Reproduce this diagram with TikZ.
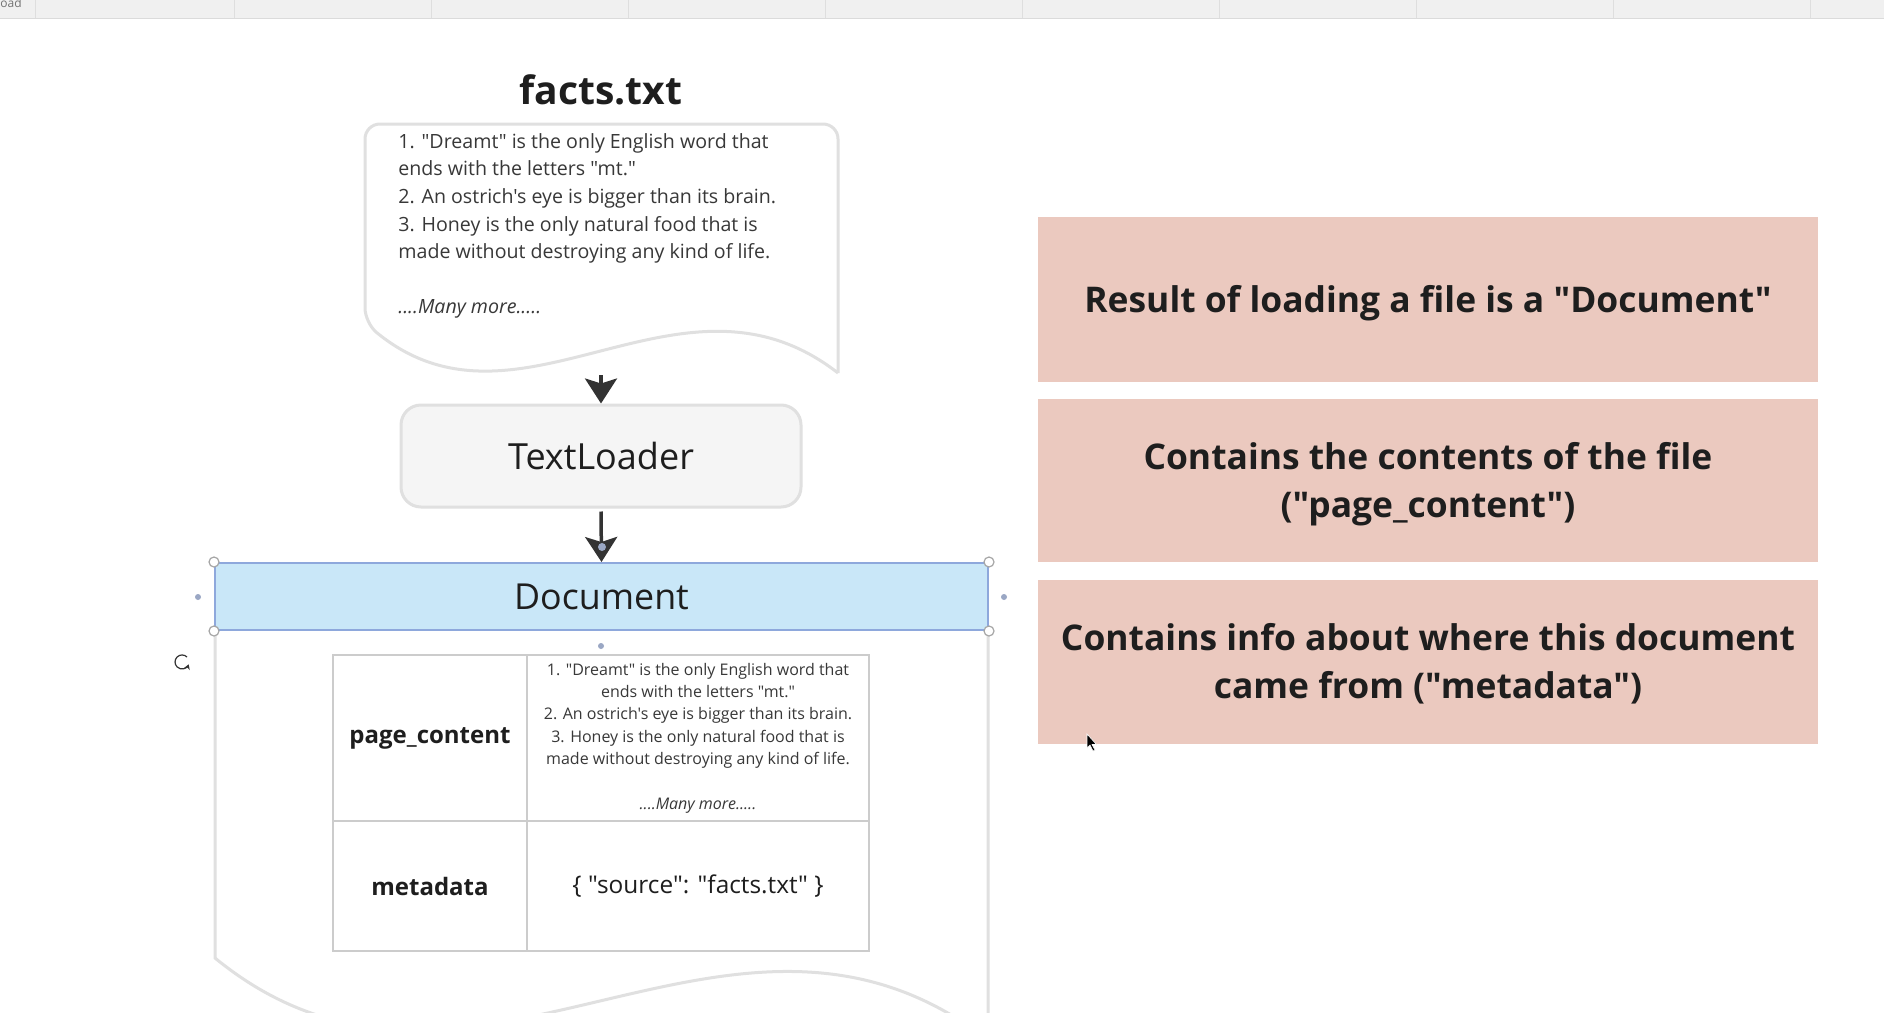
\documentclass[tikz,border=0pt]{standalone}
\usepackage{fontspec}
\setmainfont{Open Sans}[Ligatures=TeXOff]
\usetikzlibrary{arrows.meta}
\definecolor{outl}{HTML}{E0E0E0}
\definecolor{loadfill}{HTML}{F5F5F5}
\definecolor{docfill}{HTML}{C9E7F8}
\definecolor{docline}{HTML}{8EA8DC}
\definecolor{pinkbox}{HTML}{EBC9BF}
\definecolor{txtdark}{HTML}{1E1E1E}
\definecolor{txtgray}{HTML}{383838}
\definecolor{arrcol}{HTML}{333333}
\definecolor{tabline}{HTML}{CCCCCC}
\definecolor{handle}{HTML}{9AA7C4}
\tikzset{
  shapeline/.style={draw=outl, line width=1.5pt},
  arr/.style={draw=arrcol, line width=1.75pt, -{Stealth[length=12.5pt,width=16pt,inset=2.5pt]}},
  pinknote/.style={fill=pinkbox, minimum width=390pt, align=center, text=txtdark, font=\fontsize{17.7}{24}\selectfont\bfseries, inner sep=0pt},
  notetext/.style={align=center, text=txtdark, font=\fontsize{17.7}{24}\selectfont\bfseries, inner sep=0pt},
  cell/.style={draw=tabline, line width=1pt, inner sep=0pt, anchor=north west},
  selhandle/.style={circle, draw=gray!70, fill=white, line width=0.6pt, minimum size=5pt, inner sep=0pt},
  seldot/.style={circle, fill=handle, minimum size=3pt, inner sep=0pt},
}
\begin{document}
\begin{tikzpicture}[x=0.5pt,y=-0.5pt]
\useasboundingbox (0,0) rectangle (1884,1012);
\clip (0,0) rectangle (1884,1012);
\fill[white] (0,0) rectangle (1884,1012);
% top toolbar strip
\fill[black!6] (0,0) rectangle (1884,18);
\draw[black!14, line width=0.5pt] (0,18) -- (1884,18);
\foreach \gx in {35,234,431,628,825,1022,1219,1416,1613,1810}
  \draw[black!13, line width=0.5pt] (\gx,0) -- (\gx,18);
\node[anchor=base west, inner sep=0pt, text=black!55, font=\fontsize{6}{7}\selectfont] (toolbar) at (0,7) {oad};

% facts.txt file shape
\node[font=\fontsize{19.5}{23}\selectfont\bfseries, text=txtdark] (factstitle) at (601,90) {facts.txt};
\draw[shapeline, rounded corners=7.5pt] (838,373) -- (838,124) -- (365,124) -- (365,323)
  .. controls (520,450) and (680,250) .. (838,373);
\node[anchor=north west, align=left, inner sep=0pt, text=txtgray, font=\fontsize{9.8}{13.8}\selectfont] (factstext) at (398,133)
  {1. "Dreamt" is the only English word that\\
   ends with the letters "mt."\\
   2. An ostrich's eye is bigger than its brain.\\
   3. Honey is the only natural food that is\\
   made without destroying any kind of life.\\[13.8pt]
   \textit{....Many more.....}};
\coordinate (factsbot) at (601,375);

% TextLoader
\node[draw=outl, line width=1.5pt, fill=loadfill, rounded corners=10pt, minimum width=200pt, minimum height=51pt,
      font=\fontsize{18}{21}\selectfont, text=txtdark] (loader) at (601,456) {TextLoader};

% Document
\draw[shapeline] (215,630) -- (215,958) .. controls (468,1165) and (728,839) .. (988,1040) -- (988,630);
\node[draw=docline, line width=1pt, fill=docfill, minimum width=386.5pt, minimum height=33.5pt, inner sep=0pt,
      font=\fontsize{17.9}{21}\selectfont, text=txtdark] (docbar) at (601.5,596.5) {Document};

\draw[arr] (factsbot) -- (loader.north);
\draw[arr] ([yshift=-1.5pt]loader.south) -- (docbar.north);
\node[seldot, minimum size=4pt] (tipdot) at (602,547) {};

% selection handles
\node[selhandle] (h1) at (docbar.north west) {};
\node[selhandle] (h2) at (docbar.north east) {};
\node[selhandle] (h3) at (docbar.south west) {};
\node[selhandle] (h4) at (docbar.south east) {};
\node[seldot] (d1) at (198,597) {};
\node[seldot] (d2) at (1004,597) {};
\node[seldot] (d3) at (601,646) {};
\draw[black!80, line width=0.6pt, -{Stealth[length=2.5pt,width=3pt]}] (187,657) arc[start angle=315, end angle=20, radius=7];

% table
\node[cell, minimum width=97pt, minimum height=83pt] (c11) at (332,654) {};
\node[cell, minimum width=171pt, minimum height=83pt] (c12) at (526,654) {};
\node[cell, minimum width=97pt, minimum height=65pt] (c21) at (332,820) {};
\node[cell, minimum width=171pt, minimum height=65pt] (c22) at (526,820) {};
\node[font=\fontsize{12}{14}\selectfont\bfseries, text=txtdark] (pclabel) at (c11.center) {page\_content};
\node[font=\fontsize{12}{14}\selectfont\bfseries, text=txtdark] (mdlabel) at (c21.center) {metadata};
\node[align=center, inner sep=0pt, text=txtgray, font=\fontsize{8}{11.15}\selectfont] (pctext) at (c12.center)
  {1. "Dreamt" is the only English word that\\
   ends with the letters "mt."\\
   2. An ostrich's eye is bigger than its brain.\\
   3. Honey is the only natural food that is\\
   made without destroying any kind of life.\\[11.15pt]
   \textit{....Many more.....}};
\node[font=\fontsize{12.2}{14}\selectfont, text=txtdark] (mdtext) at (c22.center) {\{ "source": "facts.txt" \}};

% right notes
\node[pinknote, minimum height=82.5pt] (note1) at (1428,299.5) {};
\node[pinknote, minimum height=81.5pt] (note2) at (1428,480.5) {};
\node[pinknote, minimum height=82pt] (note3) at (1428,662) {};
\node[notetext] (note1t) at ([yshift=-2pt]note1.center) {Result of loading a file is a "Document"};
\node[notetext] (note2t) at ([yshift=-2pt]note2.center) {Contains the contents of the file\\("page\_content")};
\node[notetext] (note3t) at ([yshift=-1pt]note3.center) {Contains info about where this document\\came from ("metadata")};

% mouse cursor
\filldraw[fill=black, draw=white, line width=0.3pt] (1087,734) -- (1087,748) -- (1090,745) -- (1093,751) -- (1095,750) -- (1092,744.5) -- (1096.5,744.5) -- cycle;
\end{tikzpicture}
\end{document}
